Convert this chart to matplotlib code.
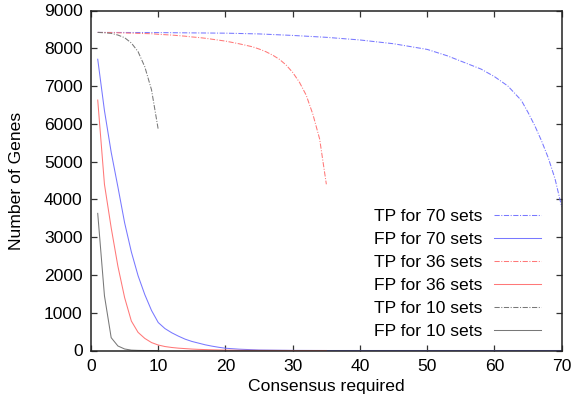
import matplotlib
matplotlib.use("Agg")
import matplotlib.pyplot as plt

# consensus values (x) and gene counts
x10 = list(range(1, 11))
tp10 = [8420, 8410, 8395, 8350, 8280, 8140, 7910, 7510, 6900, 5850]
fp10 = [3630, 1450, 340, 120, 40, 10, 3, 0, 0, 0]

x36 = list(range(1, 36))
tp36 = [8420, 8418, 8415, 8410, 8405, 8400, 8395, 8390, 8385, 8370,
        8360, 8350, 8335, 8320, 8300, 8285, 8265, 8240, 8215, 8190,
        8155, 8120, 8080, 8040, 7980, 7910, 7820, 7710, 7560, 7360,
        7100, 6760, 6250, 5600, 4400]
fp36 = [6630, 4400, 3250, 2230, 1400, 780, 480, 320, 210, 145,
        105, 80, 62, 50, 38, 30, 24, 18, 14, 10,
        8, 6, 5, 4, 3, 2, 2, 1, 1, 0,
        0, 0, 0, 0, 0]

x70 = [1, 10, 20, 25, 30, 35, 40, 45, 50, 53, 55, 58, 60, 62, 64, 65, 66, 67, 68, 69, 70]
tp70 = [8420, 8415, 8400, 8380, 8340, 8290, 8220, 8120, 7970, 7800, 7660,
        7450, 7250, 7000, 6620, 6300, 5950, 5550, 5100, 4550, 3800]
x70fp = list(range(1, 21)) + [22, 25, 30, 35, 40, 50, 60, 70]
fp70 = [7710, 6350, 5250, 4330, 3380, 2610, 1980, 1480, 1060, 740,
        580, 470, 380, 300, 240, 195, 150, 115, 85, 60,
        35, 13, 3, 0, 0, 0, 0, 0]

BLUE = "#7878ff"
RED = "#ff7878"
GRAY = "#787878"
TP_STYLE = (0, (5, 1.5, 1, 1.5))
FS = 12.6

plt.rcParams['font.family'] = ['Liberation Sans', 'DejaVu Sans']
plt.rcParams['font.size'] = FS

fig = plt.figure(figsize=(5.74, 4.04), dpi=100)
ax = fig.add_axes([91 / 574, 53.5 / 404, 470.7 / 574, 340 / 404])

lw = 0.75
ax.plot(x70, tp70, color=BLUE, lw=lw, linestyle=TP_STYLE, label="TP for 70 sets")
ax.plot(x70fp, fp70, color=BLUE, lw=lw, label="FP for 70 sets")
ax.plot(x36, tp36, color=RED, lw=lw, linestyle=TP_STYLE, label="TP for 36 sets")
ax.plot(x36, fp36, color=RED, lw=lw, label="FP for 36 sets")
ax.plot(x10, tp10, color=GRAY, lw=lw, linestyle=TP_STYLE, label="TP for 10 sets")
ax.plot(x10, fp10, color=GRAY, lw=lw, label="FP for 10 sets")

ax.set_xlim(0, 70)
ax.set_ylim(0, 9000)
ax.set_xticks(range(0, 71, 10))
ax.set_yticks(range(0, 9001, 1000))
ax.tick_params(direction="in", length=4.5, width=0.9, top=True, right=True,
               labelsize=FS, pad=6, color="#333333")
for sp in ax.spines.values():
    sp.set_linewidth(1.1)
    sp.set_color("#222222")

ax.set_xlabel("Consensus required", fontsize=FS, labelpad=4)
ax.set_ylabel("Number of Genes", fontsize=FS, labelpad=14)

ax.legend(loc="upper right", bbox_to_anchor=(0.956, 0.418), frameon=False,
          markerfirst=False, borderaxespad=0, borderpad=0, handlelength=2.7,
          handletextpad=0.65, labelspacing=0.45, fontsize=FS)

fig.savefig("out.png", dpi=100)
